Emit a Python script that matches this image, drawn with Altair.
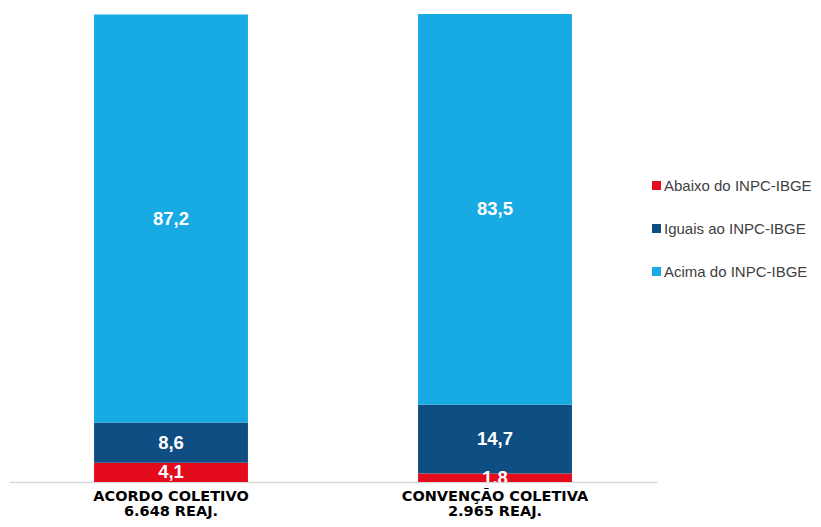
import altair as alt
import pandas as pd

categories = ["ACORDO COLETIVO|6.648 REAJ.", "CONVENÇÃO COLETIVA|2.965 REAJ."]
series = ["Abaixo do INPC-IBGE", "Iguais ao INPC-IBGE", "Acima do INPC-IBGE"]
abaixo = [4.1, 1.8]
iguais = [8.6, 14.7]
acima = [87.2, 83.5]
colors = ["#E30B1C", "#0F4E82", "#17AAE3"]

rows = []
for i, c in enumerate(categories):
    for k, (s, vals) in enumerate(zip(series, [abaixo, iguais, acima])):
        rows.append({"cat": c, "serie": s, "ord": k, "value": vals[i]})
df = pd.DataFrame(rows)

base = alt.Chart(df).transform_stack(
    stack="value", groupby=["cat"], as_=["y0", "y1"], sort=[alt.SortField("ord")]
).transform_calculate(mid="(datum.y0 + datum.y1) / 2",
                      lab="replace(format(datum.value, '.1f'), '.', ',')")

xenc = alt.X("cat:N", sort=categories, title=None,
             scale=alt.Scale(paddingInner=0.525, paddingOuter=0.2625),
             axis=alt.Axis(labelExpr="split(datum.label, '|')", labelAngle=0,
                           labelFont="DejaVu Sans", labelFontWeight="bold",
                           labelFontSize=14.5, labelColor="#000000",
                           labelLineHeight=15, labelPadding=7, labelLimit=0,
                           ticks=False, domainColor="#D9D9D9", domainWidth=1.5,
                           grid=False))

bars = base.mark_bar().encode(
    x=xenc,
    y=alt.Y("y0:Q", scale=alt.Scale(domain=[0, 100], nice=False), axis=None),
    y2="y1:Q",
    color=alt.Color("serie:N", sort=series,
                    scale=alt.Scale(domain=series, range=colors),
                    legend=alt.Legend(title=None, orient="none", legendX=640, legendY=164,
                                      symbolType="square", symbolSize=81,
                                      symbolStrokeWidth=0, symbolOpacity=1,
                                      labelFont="Liberation Sans", labelFontSize=15,
                                      labelColor="#404040", labelOffset=0, labelLimit=0,
                                      rowPadding=27, padding=0)),
)

labels = base.mark_text(font="Liberation Sans", fontWeight="bold", fontSize=18.5,
                        color="white", clip=True, baseline="middle").encode(
    x=alt.X("cat:N", sort=categories),
    y=alt.Y("mid:Q"),
    text="lab:N",
)

chart = alt.layer(bars, labels).properties(
    width=648, height=468,
    padding={"left": 1, "top": 6, "right": 156, "bottom": 37},
    autosize=alt.AutoSizeParams(type="none"),
).configure_view(stroke=None)

chart.save("out.html", embed_options={"renderer": "svg", "actions": False})
